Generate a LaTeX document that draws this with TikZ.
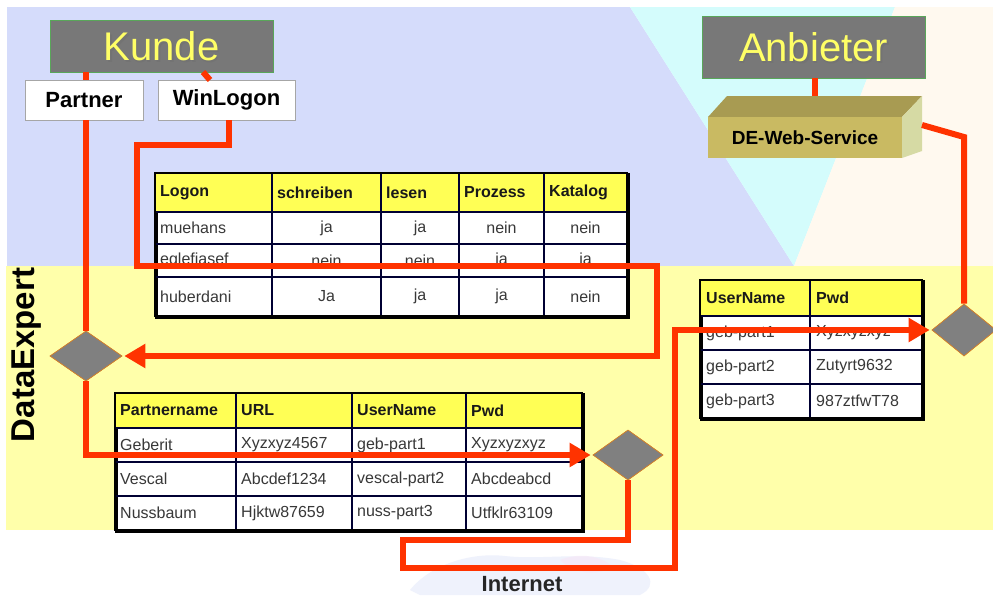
\documentclass[tikz,border=0pt]{standalone}
\usepackage{fontspec}
\setmainfont{Liberation Sans}
\usetikzlibrary{arrows.meta,shapes.geometric,calc}
\definecolor{lav}{HTML}{D5DCFB}
\definecolor{cyanbg}{HTML}{D4FCFC}
\definecolor{creambg}{HTML}{FFF9EF}
\definecolor{yelbg}{HTML}{FFFFAA}
\definecolor{hdr}{HTML}{FFFF55}
\definecolor{boxgray}{HTML}{787878}
\definecolor{titleyel}{HTML}{FFFF66}
\definecolor{redc}{HTML}{FF3300}
\definecolor{dmgray}{HTML}{808080}
\definecolor{wsfront}{HTML}{C9BA62}
\definecolor{wstop}{HTML}{A89B52}
\definecolor{wsside}{HTML}{D6DAA4}
\definecolor{mapblue}{HTML}{DCE3FA}
\definecolor{mappink}{HTML}{F6E6F6}
\begin{document}
\begin{tikzpicture}[x=1pt,y=-1pt,
  graybox/.style={fill=boxgray, draw=green!30!gray, line width=0.8pt, inner sep=0pt},
  whitebox/.style={fill=white, draw=gray!70, line width=0.8pt, inner sep=0pt,
    font=\bfseries\fontsize{22}{24}\selectfont},
  titletext/.style={font=\fontsize{40}{42}\selectfont, text=titleyel, inner sep=0pt},
  titleshadow/.style={font=\fontsize{40}{42}\selectfont, text=black!55, inner sep=0pt},
  redl/.style={draw=redc, line width=6pt, line join=miter},
  arr/.style={-{Triangle[length=21pt,width=23pt]}, shorten >=2pt},
  dmd/.style={diamond, fill=dmgray, draw=orange!70!gray, line width=0.6pt, inner sep=0pt},
  tblbox/.style={draw=black, line width=2.6pt, inner sep=0pt, anchor=north west},
  grid/.style={draw=black!80!blue, line width=1.2pt},
  hcell/.style={anchor=west, inner sep=0pt, font=\bfseries\fontsize{16}{18}\selectfont, text=black!90},
  bcell/.style={anchor=west, inner sep=0pt, font=\fontsize{16}{18}\selectfont, text=black!78},
  ccell/.style={anchor=center, inner sep=0pt, font=\fontsize{16}{18}\selectfont, text=black!78},
]
\useasboundingbox (0,0) rectangle (993,595);
\fill[white] (0,0) rectangle (993,595);
% backgrounds
\fill[lav] (7,7) -- (630,7) -- (794,266) -- (7,266) -- cycle;
\fill[cyanbg] (630,7) -- (895,7) -- (794,266) -- cycle;
\fill[creambg] (895,7) -- (993,7) -- (993,266) -- (794,266) -- cycle;
\fill[yelbg] (6,266) rectangle (993,530);
% faint map near Internet
\fill[mapblue, opacity=0.45] (410,590) .. controls (430,565) and (470,552) .. (505,556) .. controls (540,560) and (580,552) .. (620,560) .. controls (650,568) and (660,585) .. (640,595) -- (420,595) -- cycle;
\fill[mappink, opacity=0.6] (560,560) .. controls (580,552) and (600,556) .. (612,566) .. controls (600,576) and (575,575) .. (560,560) -- cycle;

% title boxes
\node[graybox, minimum width=223pt, minimum height=52pt] (kunde) at (161.5,46) {};
\node[titleshadow] (kundes) at (163,48) {Kunde};
\node[titletext] (kundet) at (161.5,46.5) {Kunde};
\node[graybox, minimum width=223pt, minimum height=62pt] (anbieter) at (813.5,47) {};
\node[titleshadow] (anbieters) at (815,49) {Anbieter};
\node[titletext] (anbietert) at (813.5,47.5) {Anbieter};

\node[whitebox, minimum width=118pt, minimum height=40pt] (partner) at (84,100) {Partner};
\node[whitebox, minimum width=137pt, minimum height=40pt] (winlogon) at (226.5,100) {WinLogon};

% DE-Web-Service 3D box
\fill[wstop] (708,117) -- (727,96) -- (922,96) -- (902,117) -- cycle;
\fill[wsside] (902,117) -- (922,96) -- (922,151) -- (902,158) -- cycle;
\node[fill=wsfront, minimum width=194pt, minimum height=41pt, inner sep=0pt,
  font=\bfseries\fontsize{19}{21}\selectfont] (dews) at (805,137.5) {DE-Web-Service};
\coordinate (dewstop) at (815,96);
\coordinate (dewsside) at (922,125);

% DataExpert & Internet
\node[rotate=90, inner sep=0pt, font=\bfseries\fontsize{33}{35}\selectfont] (dx) at (27,355) {DataExpert};
\node[inner sep=0pt, font=\bfseries\fontsize{22}{24}\selectfont, text=black!85] (inet) at (522,584) {Internet};

% ---------- Table 1
\fill[black!45] (158,176) rectangle (630,319);
\node[tblbox, fill=white, minimum width=472pt, minimum height=143pt] (t1) at (155,173) {};
\fill[hdr] (155,173) rectangle (627,212);
\foreach \x in {272,381,459,544} \draw[grid] (\x,173) -- (\x,316);
\foreach \y in {212,244,277} \draw[grid] (155,\y) -- (627,\y);
\draw[black, line width=2.6pt] (155,173) rectangle (627,316);
\foreach [count=\i] \x/\t in {160/Logon,277/schreiben,386/lesen,464/Prozess,549/Katalog}
  \node[hcell] (t1h\i) at (\x,192.5) {\t};
\foreach [count=\r] \y/\n/\a/\b/\c/\d in {228/muehans/ja/ja/nein/nein, 260.5/eglefiasef/nein/nein/ja/ja, 296.5/huberdani/Ja/ja/ja/nein}{
  \node[bcell] (t1n\r) at (160,\y) {\n};
  \node[ccell] (t1a\r) at (326.5,\y) {\a};
  \node[ccell] (t1b\r) at (420,\y) {\b};
  \node[ccell] (t1c\r) at (501.5,\y) {\c};
  \node[ccell] (t1d\r) at (585.5,\y) {\d};
}

% ---------- Table 2
\fill[black!45] (118,396) rectangle (585,533);
\node[tblbox, fill=white, minimum width=467pt, minimum height=137pt] (t2) at (115,393) {};
\fill[hdr] (115,393) rectangle (582,428);
\foreach \x in {236,352,466} \draw[grid] (\x,393) -- (\x,530);
\foreach \y in {428,462,496} \draw[grid] (115,\y) -- (582,\y);
\draw[black, line width=2.6pt] (115,393) rectangle (582,530);
\foreach [count=\i] \x/\t in {120/Partnername,241/URL,357/UserName,471/Pwd}
  \node[hcell] (t2h\i) at (\x,410.5) {\t};
\foreach [count=\r] \y/\a/\b/\c/\d in {445/Geberit/Xyzxyz4567/geb-part1/Xyzxyzxyz, 479/Vescal/Abcdef1234/vescal-part2/Abcdeabcd, 513/Nussbaum/Hjktw87659/nuss-part3/Utfklr63109}{
  \node[bcell] (t2a\r) at (120,\y) {\a};
  \node[bcell] (t2b\r) at (241,\y) {\b};
  \node[bcell] (t2c\r) at (357,\y) {\c};
  \node[bcell] (t2d\r) at (471,\y) {\d};
}

% ---------- Table 3
\fill[black!45] (703,283) rectangle (925,421);
\node[tblbox, fill=white, minimum width=222pt, minimum height=138pt] (t3) at (700,280) {};
\fill[hdr] (700,280) rectangle (922,316);
\draw[grid] (810,280) -- (810,418);
\foreach \y in {316,350,384} \draw[grid] (700,\y) -- (922,\y);
\draw[black, line width=2.6pt] (700,280) rectangle (922,418);
\node[hcell] (t3h1) at (706,298) {UserName};
\node[hcell] (t3h2) at (816,298) {Pwd};
\foreach [count=\r] \y/\a/\b in {333/geb-part1/Xyzxyzxyz, 367/geb-part2/Zutyrt9632, 401/geb-part3/987ztfwT78}{
  \node[bcell] (t3a\r) at (706,\y) {\a};
  \node[bcell] (t3b\r) at (816,\y) {\b};
}

% ---------- diamonds (placed, drawn later on top)
\path node[dmd, minimum width=72pt, minimum height=50pt] (d1) at (86,356) {};
\path node[dmd, minimum width=70pt, minimum height=50pt] (d2) at (628,455) {};
\path node[dmd, minimum width=64pt, minimum height=52pt] (d3) at (964,330) {};

% ---------- red connectors
\coordinate (k2) at (203,72);
\coordinate (w2) at (210,80);
\draw[redl] (kunde.south -| d1.north) -- (partner.north -| d1.north);
\draw[redl] (k2) -- (w2);
\draw[redl] (partner.south -| d1.north) -- (d1.north);
\draw[redl, arr] (d1.south) |- (d2.west);
\draw[redl, arr] ([xshift=2pt]winlogon.south) |- (137,145) -- (137,266) -- (657,266) |- (d1.east);
\draw[redl, arr] (d2.south) -- (628,540) -- (403,540) -- (403,568) -- (675,568) |- (d3.west);
\draw[redl] (anbieter.south -| dewstop) -- (dewstop);
\draw[redl] (dewsside) -- (964,137) -- (d3.north);

% diamonds on top
\node[dmd, minimum width=72pt, minimum height=50pt] (d1v) at (d1) {};
\node[dmd, minimum width=70pt, minimum height=50pt] (d2v) at (d2) {};
\node[dmd, minimum width=64pt, minimum height=52pt] (d3v) at (d3) {};
\end{tikzpicture}
\end{document}
